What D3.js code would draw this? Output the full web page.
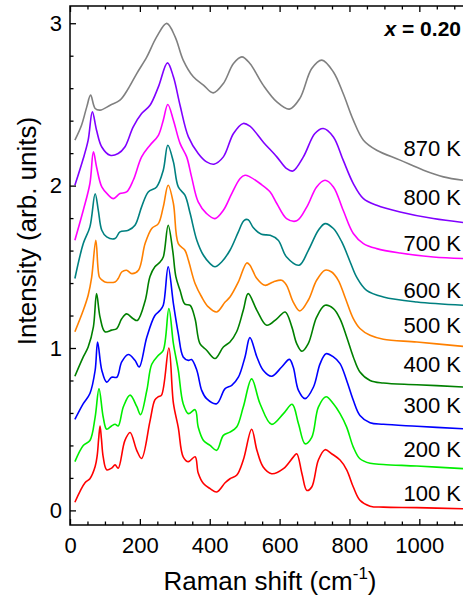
<!DOCTYPE html>
<html>
<head>
<meta charset="utf-8">
<script src="https://cdn.jsdelivr.net/npm/d3@7"></script>
<style>
  body { margin: 0; background: #fff; }
  svg { display: block; font-family: "Liberation Sans", Arial, sans-serif; }
</style>
</head>
<body>
<script>
// spectra, [raman shift, intensity], already offset as plotted
const s100 = [[14,0.05],[43,0.17],[57,0.195],[72,0.27],[78,0.34],[82,0.44],[86,0.52],[90,0.44],[95,0.33],[105,0.25],[119,0.26],[129,0.28],[138,0.26],[157,0.43],[172,0.48],[191,0.37],[205,0.32],[229,0.55],[243,0.68],[253,0.70],[262,0.71],[283,1.0],[296,0.66],[310,0.51],[324,0.33],[339,0.30],[358,0.33],[367,0.23],[382,0.165],[401,0.134],[420,0.113],[444,0.17],[458,0.195],[477,0.216],[496,0.31],[520,0.50],[535,0.37],[553,0.267],[577,0.226],[611,0.257],[639,0.328],[649,0.349],[664,0.226],[678,0.123],[692,0.144],[711,0.31],[730,0.374],[749,0.349],[773,0.31],[792,0.25],[811,0.144],[830,0.062],[859,0.026],[897,0.02],[993,0.017],[1125,0.01]];
const s200 = [[14,0.30],[38,0.40],[57,0.43],[72,0.575],[83,0.75],[95,0.575],[105,0.50],[119,0.52],[129,0.53],[138,0.52],[153,0.64],[172,0.71],[191,0.64],[202,0.59],[220,0.74],[234,0.90],[253,0.955],[267,0.986],[283,1.243],[296,1.027],[310,0.863],[324,0.657],[339,0.596],[358,0.62],[367,0.513],[382,0.431],[401,0.40],[420,0.37],[439,0.462],[458,0.482],[477,0.513],[496,0.636],[520,0.81],[544,0.657],[577,0.53],[611,0.596],[636,0.653],[654,0.534],[673,0.41],[692,0.45],[711,0.636],[733,0.70],[754,0.657],[773,0.596],[792,0.513],[811,0.39],[830,0.318],[859,0.29],[897,0.283],[993,0.273],[1125,0.257]];
const s300 = [[14,0.56],[38,0.657],[57,0.72],[72,0.863],[79,1.037],[91,0.863],[105,0.79],[119,0.82],[134,0.82],[148,0.914],[167,0.96],[186,0.924],[198,0.883],[220,1.068],[243,1.20],[258,1.232],[267,1.263],[281,1.50],[296,1.274],[310,1.089],[324,0.945],[339,0.924],[348,0.929],[363,0.863],[377,0.739],[391,0.688],[420,0.657],[444,0.75],[463,0.77],[482,0.82],[501,0.945],[515,1.064],[535,0.945],[553,0.863],[577,0.826],[606,0.883],[628,0.93],[639,0.883],[654,0.739],[673,0.688],[697,0.76],[716,0.904],[733,0.965],[754,0.945],[773,0.904],[792,0.80],[811,0.678],[830,0.585],[859,0.54],[897,0.53],[993,0.518],[1125,0.503]];
const s400 = [[14,0.826],[38,0.945],[52,1.006],[67,1.13],[76,1.335],[86,1.19],[100,1.10],[119,1.11],[134,1.12],[148,1.18],[162,1.21],[181,1.18],[193,1.17],[215,1.29],[229,1.44],[243,1.50],[258,1.53],[267,1.56],[281,1.756],[294,1.60],[303,1.44],[315,1.355],[329,1.27],[344,1.263],[358,1.18],[372,1.027],[391,0.986],[415,0.935],[439,1.006],[458,1.037],[477,1.10],[496,1.232],[510,1.335],[535,1.232],[563,1.14],[592,1.18],[616,1.222],[635,1.13],[649,1.027],[664,0.98],[682,1.027],[706,1.19],[730,1.263],[754,1.243],[773,1.18],[792,1.068],[811,0.945],[830,0.852],[859,0.80],[897,0.784],[993,0.774],[1125,0.76]];
const s500 = [[14,1.10],[38,1.232],[52,1.325],[62,1.435],[74,1.664],[84,1.437],[91,1.42],[100,1.407],[129,1.407],[138,1.428],[148,1.468],[162,1.479],[177,1.458],[196,1.479],[215,1.643],[234,1.736],[253,1.766],[267,1.869],[281,2.002],[296,1.89],[310,1.643],[329,1.602],[339,1.54],[358,1.397],[377,1.314],[396,1.253],[420,1.222],[444,1.283],[458,1.314],[482,1.407],[506,1.524],[515,1.51],[535,1.428],[558,1.386],[582,1.407],[606,1.417],[620,1.386],[639,1.283],[658,1.228],[682,1.294],[706,1.417],[730,1.479],[749,1.468],[768,1.417],[787,1.314],[811,1.181],[830,1.12],[859,1.078],[897,1.054],[993,1.037],[1125,1.01]];
const s600 = [[14,1.428],[38,1.643],[57,1.746],[72,1.95],[81,1.848],[91,1.725],[105,1.684],[129,1.674],[143,1.715],[167,1.725],[186,1.756],[205,1.869],[224,1.961],[248,1.992],[267,2.095],[280,2.249],[296,2.146],[310,1.992],[329,1.941],[344,1.828],[363,1.664],[382,1.571],[401,1.52],[415,1.50],[434,1.53],[458,1.602],[482,1.715],[498,1.785],[510,1.79],[525,1.74],[548,1.70],[573,1.694],[596,1.664],[620,1.56],[656,1.51],[682,1.60],[711,1.725],[730,1.766],[754,1.736],[778,1.653],[802,1.53],[821,1.435],[849,1.355],[897,1.314],[993,1.283],[1125,1.263]];
const s700 = [[14,1.664],[38,1.848],[57,2.013],[67,2.208],[76,2.115],[91,1.992],[110,1.941],[124,1.92],[143,1.951],[162,1.961],[181,2.033],[205,2.177],[229,2.249],[253,2.31],[267,2.403],[280,2.50],[296,2.403],[315,2.26],[334,2.177],[348,2.054],[367,1.90],[391,1.828],[415,1.797],[439,1.848],[463,1.951],[487,2.044],[501,2.064],[515,2.054],[544,2.013],[573,1.961],[592,1.89],[620,1.797],[649,1.783],[678,1.869],[706,1.992],[730,2.033],[754,1.992],[782,1.848],[811,1.705],[840,1.643],[878,1.612],[945,1.585],[1040,1.56],[1125,1.551]];
const s800 = [[14,2.002],[38,2.167],[52,2.28],[64,2.454],[76,2.341],[91,2.238],[115,2.187],[138,2.198],[157,2.238],[181,2.362],[205,2.444],[229,2.495],[253,2.608],[279,2.756],[296,2.67],[315,2.495],[339,2.30],[367,2.198],[391,2.146],[412,2.132],[439,2.177],[468,2.321],[496,2.383],[515,2.366],[553,2.269],[592,2.177],[620,2.105],[638,2.09],[668,2.177],[701,2.321],[725,2.352],[754,2.30],[782,2.157],[811,2.013],[840,1.92],[878,1.879],[945,1.838],[1040,1.797],[1125,1.773]];
const s870 = [[14,2.28],[33,2.372],[48,2.485],[59,2.557],[72,2.475],[86,2.465],[115,2.495],[143,2.526],[167,2.598],[191,2.69],[220,2.793],[248,2.916],[277,2.999],[301,2.916],[324,2.773],[353,2.67],[382,2.619],[410,2.571],[439,2.629],[468,2.752],[492,2.793],[515,2.752],[553,2.619],[592,2.516],[628,2.471],[658,2.537],[692,2.721],[721,2.773],[754,2.70],[782,2.567],[811,2.403],[840,2.28],[878,2.218],[945,2.157],[1012,2.095],[1069,2.054],[1125,2.033]];

const temps = ["100 K", "200 K", "300 K", "400 K", "500 K", "600 K", "700 K", "800 K", "870 K"];
const series = [s100, s200, s300, s400, s500, s600, s700, s800, s870];
// where each temperature label sits (intensity units)
const labelY = [0.06, 0.33, 0.60, 0.85, 1.09, 1.31, 1.60, 1.88, 2.18];
const colors = ["#ff0000", "#00ee00", "#0000ff", "#008000", "#ff8000", "#008080", "#ff00ff", "#8000ff", "#808080"];

const xMajor = [0, 200, 400, 600, 800, 1000];
const yMajor = [0, 1, 2, 3];

const width = 463;
const height = 603;
const plotL = 70, plotT = 6, plotR = 463, plotB = 525;

let svg = d3
  .select("body")
  .append("svg")
  .attr("width", width)
  .attr("height", height);

let x = d3.scaleLinear().domain([0, 1125]).range([plotL, plotR]);
let y = d3.scaleLinear().domain([-0.09, 3.1]).range([plotB, plotT + 1]);

svg.append("clipPath")
  .attr("id", "clip")
  .append("rect")
  .attr("x", plotL)
  .attr("y", plotT)
  .attr("width", plotR - plotL)
  .attr("height", plotB - plotT);

// spectra
let line = d3
  .line()
  .x(d => x(d[0]))
  .y(d => y(d[1]))
  .curve(d3.curveCatmullRom.alpha(0.5));

svg.append("g")
  .attr("clip-path", "url(#clip)")
  .selectAll("path")
  .data(series)
  .enter()
  .append("path")
  .attr("d", line)
  .attr("fill", "none")
  .attr("stroke", (d, i) => colors[i])
  .attr("stroke-width", 1.6)
  .attr("stroke-linejoin", "round");

// temperature labels
svg.append("g")
  .selectAll("text")
  .data(temps)
  .enter()
  .append("text")
  .attr("x", 461)
  .attr("y", (d, i) => y(labelY[i]))
  .attr("text-anchor", "end")
  .attr("font-size", 22)
  .text(d => d);

// axes, ticks pointing inwards
let xMinor = d3.range(0, 1126, 50).filter(v => v % 200 != 0);
let yMinor = d3.range(0, 3.11, 0.2).filter(v => Math.abs(v - Math.round(v)) > 0.01);

let styleAxis = g => {
  g.select(".domain").remove();
  g.selectAll("line").attr("stroke", "#000").attr("stroke-width", 1.3);
  g.selectAll("text").attr("font-size", 22).attr("fill", "#000").attr("font-family", "Liberation Sans, Arial, sans-serif");
};

svg.append("g")
  .attr("transform", `translate(0,${plotB})`)
  .call(d3.axisBottom(x).tickValues(xMajor).tickSize(-6).tickPadding(12).tickFormat(d3.format("d")))
  .call(styleAxis);
svg.append("g")
  .attr("transform", `translate(0,${plotB})`)
  .call(d3.axisBottom(x).tickValues(xMinor).tickSize(-3.5).tickFormat(""))
  .call(styleAxis);
svg.append("g")
  .attr("transform", `translate(0,${plotT})`)
  .call(d3.axisTop(x).tickValues(xMajor).tickSize(-6).tickFormat(""))
  .call(styleAxis);
svg.append("g")
  .attr("transform", `translate(0,${plotT})`)
  .call(d3.axisTop(x).tickValues(xMinor).tickSize(-3.5).tickFormat(""))
  .call(styleAxis);
svg.append("g")
  .attr("transform", `translate(${plotL},0)`)
  .call(d3.axisLeft(y).tickValues(yMajor).tickSize(-6).tickPadding(8).tickFormat(d3.format("d")))
  .call(styleAxis);
svg.append("g")
  .attr("transform", `translate(${plotL},0)`)
  .call(d3.axisLeft(y).tickValues(yMinor).tickSize(-3.5).tickFormat(""))
  .call(styleAxis);

// frame
svg.append("rect")
  .attr("x", plotL)
  .attr("y", plotT)
  .attr("width", plotR + 2 - plotL)
  .attr("height", plotB - plotT)
  .attr("fill", "none")
  .attr("stroke", "#000")
  .attr("stroke-width", 1.5);

// composition
let comp = svg.append("text")
  .attr("x", 461)
  .attr("y", 36)
  .attr("text-anchor", "end")
  .attr("font-size", 21)
  .attr("font-weight", "bold");
comp.append("tspan").attr("font-style", "italic").text("x");
comp.append("tspan").text(" = 0.20");

// axis titles
let xt = svg.append("text")
  .attr("x", 270)
  .attr("y", 590)
  .attr("text-anchor", "middle")
  .attr("font-size", 26);
xt.append("tspan").text("Raman shift (cm");
xt.append("tspan").attr("font-size", 17).attr("dy", -11).text("-1");
xt.append("tspan").attr("dy", 11).text(")");

svg.append("text")
  .attr("transform", "translate(36,231)rotate(-90)")
  .attr("text-anchor", "middle")
  .attr("font-size", 26)
  .text("Intensity (arb. units)");
</script>
</body>
</html>
